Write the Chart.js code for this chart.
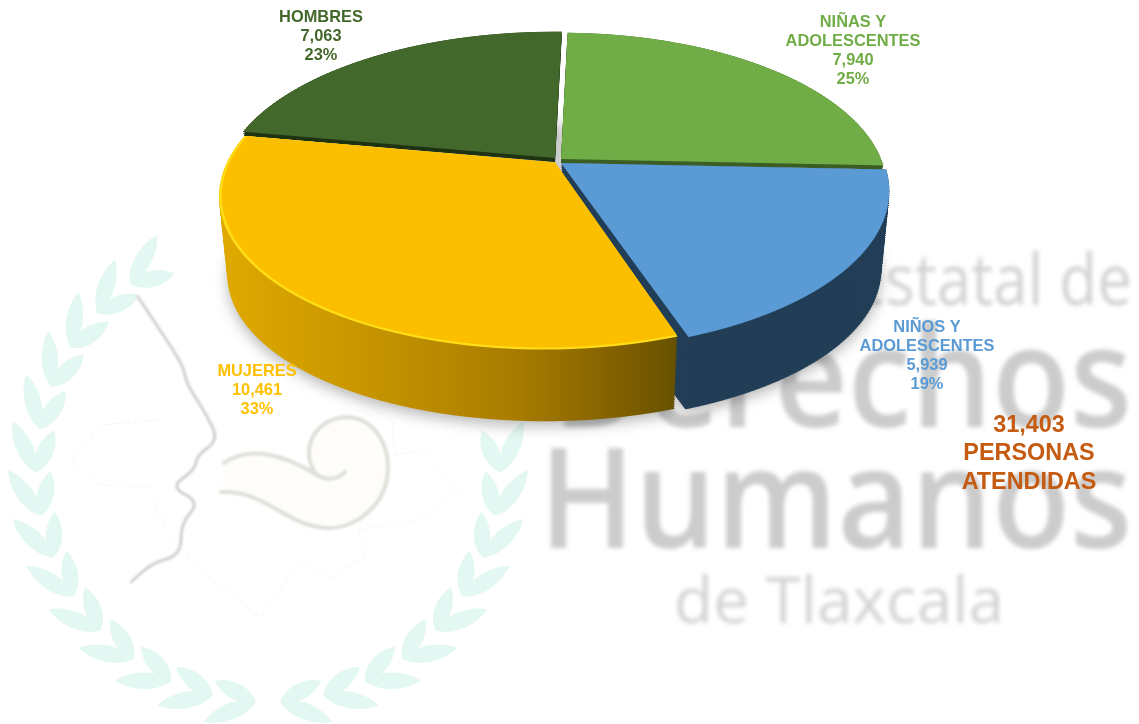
<!DOCTYPE html>
<html><head><meta charset="utf-8">
<style>html,body{margin:0;padding:0;background:#fff}canvas{display:block}</style>
<script src="https://cdn.jsdelivr.net/npm/chart.js@4/dist/chart.umd.min.js"></script>
</head><body><canvas id="c" width="1139" height="724"></canvas>
<script>
const categories = ["NIÑAS Y ADOLESCENTES","NIÑOS Y ADOLESCENTES","MUJERES","HOMBRES"];
const values = [7940,5939,10461,7063];
const percents = ["25%","19%","33%","23%"];
const colors = ["#70AD47","#5B9BD5","#FCBF00","#43682B"];
const labelColors = ["#70AD47","#5B9BD5","#FFC000","#43682B"];
const labelNames = [["NIÑAS Y","ADOLESCENTES"],["NIÑOS Y","ADOLESCENTES"],["MUJERES"],["HOMBRES"]];
const totalLines = ["31,403","PERSONAS","ATENDIDAS"];
const watermarkLines = ["Estatal de","Derechos","Humanos","de Tlaxcala"];

// styling / layout only
const labelPos = [{x:853,y:22},{x:927,y:327},{x:257,y:371},{x:321,y:17}];
const P=0.1875, DEPTH=81;
const geom = [
 {cx:561,cy:159,B:320,A:150,sh:0,wall:"#3B5E24",tMax:.05},
 {cx:561,cy:163,B:323,A:152,sh:-.02,wall:"#223E57",tMax:1},
 {cx:555,cy:162.5,B:328,A:152,sh:-.06,wall:"#000",tMax:1,grad:true,rim:"#FFDE17"},
 {cx:555,cy:158,B:328,A:150,sh:0,wall:"#1F3313",tMax:.05}
];

function paint(ctx,el,g,t,inset,h){
  const cy=g.cy+DEPTH*t, Bt=g.B*(1-.025*t)-inset, At=g.A*(1-.05*t)-inset*.7;
  const R=el.outerRadius, top=Math.floor(cy-At/(1+P)), bot=Math.ceil(cy+At/(1-P));
  for(let Y=top;Y<bot;Y+=h){
    const yp=Y+h/2-cy, v0=yp/(At+P*yp), w=1-P*v0, k=Bt/w, m=At/(w*w);
    if(Math.abs(v0)>1.02) continue;
    ctx.save();
    ctx.beginPath();ctx.rect(0,Y,1139,h);ctx.clip();
    const base=yp+m*(-el.y/R-v0);
    ctx.setTransform(k/R,0,g.sh*m/R,m/R,g.cx-k*el.x/R+g.sh*base,cy+base);
    el.draw(ctx);
    ctx.restore();
  }
}
function withColor(el,color,fn){
  const o=el.options; el.options=Object.assign({},o,{backgroundColor:color});
  fn(); el.options=o;
}
function wreath(ctx){
  ctx.save();
  ctx.fillStyle="#E3F8F2";
  const leaf=(x,y,a,l,w)=>{
    ctx.save();ctx.translate(x,y);ctx.rotate(a);
    ctx.beginPath();ctx.moveTo(0,0);
    ctx.bezierCurveTo(l*.25,-w,l*.7,-w,l,0);
    ctx.bezierCurveTo(l*.7,w,l*.25,w,0,0);
    ctx.fill();ctx.restore();
  };
  const C={x:268,y:470},Rw=232;
  for(const side of [-1,1]){
    const n=side<0?14:9;
    for(let i=0;i<n;i++){
      const a=(3+i*10.8)*Math.PI/180;          // from the bottom of the wreath
      const x=C.x+side*Rw*Math.sin(a), y=C.y+Rw*Math.cos(a);
      const tan=Math.atan2(-Math.sin(a),side*Math.cos(a));
      const outer=side<0?.42:-.42;
      leaf(x,y,tan+outer,46,11);
      leaf(x,y,tan-outer,56,11);
    }
  }
  ctx.restore();
}
function smooth(ctx,pts){
  ctx.beginPath();ctx.moveTo(pts[0][0],pts[0][1]);
  for(let i=1;i<pts.length-1;i++){
    const mx=(pts[i][0]+pts[i+1][0])/2,my=(pts[i][1]+pts[i+1][1])/2;
    ctx.quadraticCurveTo(pts[i][0],pts[i][1],mx,my);
  }
  const e=pts[pts.length-1];ctx.lineTo(e[0],e[1]);
}
function face(ctx){
  ctx.save();ctx.lineCap="round";ctx.lineJoin="round";
  ctx.filter="blur(.8px)";
  const pts=[[138,297],[162,333],[184,367],[186,383],[205,412],[219,440],[197,455],[195,470],[170,487],[200,502],[181,523],[181,555],[152,563],[131,582]];
  ctx.strokeStyle="#D0D0D0";ctx.lineWidth=3;
  smooth(ctx,pts);ctx.stroke();
  ctx.fillStyle="#FEFDF9";
  ctx.beginPath();ctx.moveTo(224,463);
  ctx.bezierCurveTo(250,445,285,455,317,475);
  ctx.bezierCurveTo(300,455,310,420,345,417);
  ctx.bezierCurveTo(375,417,388,445,388,467);
  ctx.bezierCurveTo(388,505,355,530,325,528);
  ctx.bezierCurveTo(285,525,265,490,221,492);
  ctx.closePath();ctx.fill();
  ctx.strokeStyle="#E0DFDA";ctx.lineWidth=4;
  ctx.beginPath();ctx.moveTo(224,463);
  ctx.bezierCurveTo(250,445,285,455,317,475);
  ctx.bezierCurveTo(328,482,340,478,345,472);
  ctx.moveTo(317,475);
  ctx.bezierCurveTo(300,455,310,420,345,417);
  ctx.bezierCurveTo(375,417,388,445,388,467);
  ctx.bezierCurveTo(388,505,355,530,325,528);
  ctx.bezierCurveTo(285,525,265,490,221,492);
  ctx.stroke();
  ctx.restore();
  ctx.save();ctx.strokeStyle="#F6F6F6";ctx.lineWidth=1;ctx.setLineDash([6,4]);
  ctx.beginPath();
  [[160,420],[100,425],[72,460],[100,485],[150,487],[165,530],[200,570],[260,617],[295,570],[300,560],[330,578],[365,555],[358,530],[420,520],[458,490],[425,450],[395,455],[392,420],[360,400],[330,385]]
    .forEach((p,i)=>i?ctx.lineTo(p[0],p[1]):ctx.moveTo(p[0],p[1]));
  ctx.stroke();ctx.restore();
}
function watermark(ctx){
  ctx.save();ctx.textBaseline="alphabetic";ctx.filter="blur(2px)";
  const f=[{t:0,s:72,w:400,c:"#D2D2D2",r:1132,b:305,sx:.86},{t:1,s:140,w:600,c:"#CCCCCC",r:1132,b:427,sx:.91},
           {t:2,s:140,w:600,c:"#CCCCCC",r:1132,b:548,sx:.91},{t:3,s:64,w:400,c:"#D4D4D4",r:1004,b:623,sx:1}];
  for(const d of f){
    ctx.font=d.w+" "+d.s+"px 'Open Sans'";ctx.fillStyle=d.c;ctx.textAlign="right";
    const txt=watermarkLines[d.t];
    ctx.fillText(txt,d.r,d.b,ctx.measureText(txt).width*d.sx);
  }
  ctx.restore();
}
const pie3d={
  id:"pie3d",
  beforeDatasetsDraw(chart){
    const ctx=chart.ctx, els=chart.getDatasetMeta(0).data;
    ctx.save();ctx.fillStyle="#fff";ctx.fillRect(0,0,1139,724);ctx.restore();
    wreath(ctx);face(ctx);watermark(ctx);
    const off=document.createElement("canvas");off.width=1139;off.height=724;
    const o=off.getContext("2d");
    // soft shadow under the whole disc
    els.forEach((el,i)=>withColor(el,"#000",()=>paint(o,el,geom[i],1,0,2)));
    ctx.save();ctx.filter="blur(7px)";ctx.globalAlpha=.28;ctx.drawImage(off,0,5);ctx.restore();
    // slices back to front
    [3,0,1,2].forEach(i=>{
      const el=els[i],g=geom[i];
      o.clearRect(0,0,1139,724);
      withColor(el,g.wall,()=>{
        const n=Math.max(2,Math.round(DEPTH*g.tMax/2));
        for(let s=n;s>=0;s--) paint(o,el,g,g.tMax*s/n,0,2);
      });
      if(g.grad){
        o.save();o.globalCompositeOperation="source-in";
        const lg=o.createLinearGradient(225,0,680,0);
        lg.addColorStop(0,"#DFA900");lg.addColorStop(.35,"#C49200");lg.addColorStop(.65,"#A67B00");
        lg.addColorStop(.88,"#7E5E00");lg.addColorStop(1,"#655000");
        o.fillStyle=lg;o.fillRect(0,0,1139,724);o.restore();
      }
      ctx.drawImage(off,0,0);
      if(g.rim){
        withColor(el,g.rim,()=>paint(ctx,el,g,0,0,1));
        withColor(el,colors[i],()=>paint(ctx,el,g,0,2.5,1));
      } else {
        withColor(el,colors[i],()=>paint(ctx,el,g,0,0,1));
      }
    });
    // labels
    ctx.save();ctx.textAlign="center";ctx.textBaseline="middle";
    ctx.font="bold 16.4px 'Liberation Sans'";
    values.forEach((val,i)=>{
      const lines=[...labelNames[i],val.toLocaleString("en-US"),percents[i]];
      ctx.fillStyle=labelColors[i];
      lines.forEach((t,j)=>ctx.fillText(t,labelPos[i].x,labelPos[i].y+j*19.3));
    });
    ctx.font="bold 23.4px 'Liberation Sans'";ctx.fillStyle="#C55A11";
    totalLines.forEach((t,j)=>ctx.fillText(t,1029,425.5+j*28.5));
    ctx.restore();
    return false;
  }
};
new Chart(document.getElementById("c"),{
  type:"pie",
  data:{labels:categories,datasets:[{data:values,backgroundColor:colors,borderWidth:0}]},
  options:{responsive:false,animation:false,rotation:1.4,events:[],
    layout:{padding:20},
    plugins:{legend:{display:false},tooltip:{enabled:false}}},
  plugins:[pie3d]
});
</script></body></html>
